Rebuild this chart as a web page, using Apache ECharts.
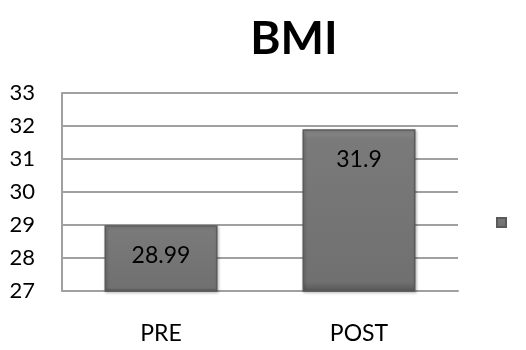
<!DOCTYPE html>
<html>
<head>
<meta charset="utf-8">
<script src="https://cdn.jsdelivr.net/npm/echarts@6/dist/echarts.min.js"></script>
<style>
  html, body { margin: 0; padding: 0; background: #fff; }
  #chart { width: 526px; height: 350px; }
</style>
</head>
<body>
<div id="chart"></div>
<script>
// BMI before and after
const categories = ['PRE', 'POST'];
const bmiValues = [28.99, 31.9];
const yTicks = { min: 27, max: 33, step: 1 };

const chart = echarts.init(document.getElementById('chart'));
const font = 'Lato, "Open Sans", sans-serif';

chart.setOption({
  animation: false,
  title: {
    text: 'BMI',
    left: 289,
    top: 11,
    textAlign: 'center',
    textStyle: { fontFamily: font, fontSize: 46, fontWeight: 'bold', color: '#000' }
  },
  legend: {
    right: 14,
    top: 212,
    itemWidth: 9,
    itemHeight: 9,
    icon: 'rect',
    formatter: () => '',
    data: ['BMI']
  },
  grid: { left: 62, right: 68, top: 93, bottom: 59 },
  xAxis: {
    type: 'category',
    data: categories,
    axisTick: { show: false },
    axisLine: { lineStyle: { color: '#a0a0a0', width: 2 } },
    axisLabel: { fontFamily: font, fontSize: 23, color: '#000', margin: 31 }
  },
  yAxis: {
    type: 'value',
    min: yTicks.min,
    max: yTicks.max,
    interval: yTicks.step,
    axisLine: { show: true, lineStyle: { color: '#a0a0a0', width: 2 } },
    axisTick: { show: false },
    splitLine: { lineStyle: { color: '#a0a0a0', width: 2 } },
    axisLabel: { fontFamily: font, fontSize: 22, color: '#000', margin: 27 }
  },
  series: [{
    name: 'BMI',
    type: 'bar',
    data: bmiValues,
    barWidth: 113,
    itemStyle: {
      color: new echarts.graphic.LinearGradient(0, 0, 0, 1, [
        { offset: 0, color: '#8c8c8c' },
        { offset: 0.06, color: '#7a7a7a' },
        { offset: 0.94, color: '#707070' },
        { offset: 1, color: '#555555' }
      ]),
      borderColor: '#5a5a5a',
      borderWidth: 1.5,
      shadowColor: 'rgba(0,0,0,0.25)',
      shadowBlur: 3,
      shadowOffsetX: 1,
      shadowOffsetY: 1
    },
    label: {
      show: true,
      position: 'insideTop',
      distance: 19,
      fontFamily: font,
      fontSize: 23,
      color: '#000'
    }
  }]
});
</script>
</body>
</html>
